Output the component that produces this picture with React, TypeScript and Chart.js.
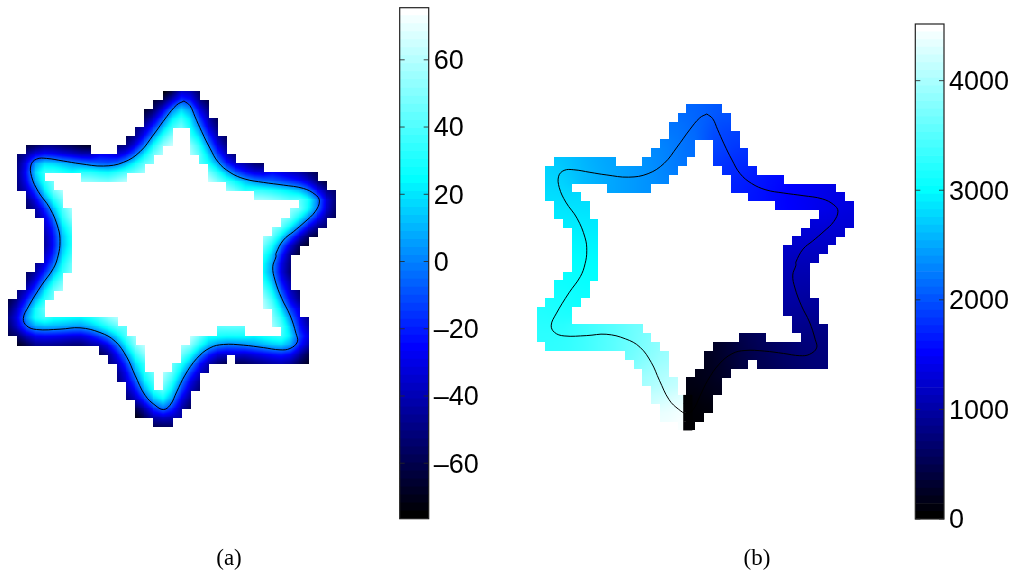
import React, { useEffect, useRef } from "react";
import { Chart, registerables } from "chart.js";

Chart.register(...registerables);

type Run = [number, number, number[]];

// [row, first column, values]
const fieldA: Run[] = [
  [0, 17, [-72, -45, -24, -54]],
  [1, 16, [-60, -29, 0, 12, -22, -58]],
  [2, 15, [-62, -34, -5, 24, 28, -5, -37]],
  [3, 15, [-41, -12, 17, 46, 42, 10, -23, -55]],
  [4, 14, [-49, -20, 8, 37]], [4, 20, [24, -8, -41]],
  [5, 13, [-55, -26, 2, 31, 60]], [5, 20, [43, 11, -22, -54]],
  [6, 2, [-58, -48, -45, -50, -54, -58, -64]], [6, 12, [-50, -30, -3, 27, 55]], [6, 20, [55, 23, -8, -39]],
  [7, 1, [-50, -14, 2, 0, -5, -10, -15, -20, -24, -27, -27, -18, 3, 22, 47]], [7, 21, [39, 11, -18, -50]],
  [8, 1, [-45, 0, 34, 37, 33, 27, 22, 17, 13, 9, 9, 20, 34, 53]], [8, 22, [30, 7, -16, -34, -45, -52]],
  [9, 1, [-45, 0, 31]], [9, 8, [52, 49, 45, 45, 58]], [9, 22, [60, 34, 17, 0, -9, -17, -21, -25, -31, -36, -42, -55]],
  [10, 1, [-47, -16, 14, 45]], [10, 24, [52, 35, 27, 19, 15, 11, 5, 0, -9, -30, -60]],
  [11, 2, [-42, -3, 27, 56]], [11, 27, [54, 51, 47, 41, 36, 27, 7, -22, -50]],
  [12, 2, [-52, -23, 5, 34]], [12, 32, [54, 22, -13, -49]],
  [13, 3, [-45, -12, 22, 54]], [13, 31, [50, 25, 0, -25, -55]],
  [14, 4, [-32, 9, 43]], [14, 30, [50, 27, 0, -25, -50]],
  [15, 4, [-38, -3, 32]], [15, 29, [50, 23, -5, -33, -60]],
  [16, 4, [-42, -6, 29]], [16, 28, [54, 23, -8, -36, -63]],
  [17, 4, [-42, -5, 31]], [17, 28, [36, 3, -30, -60]],
  [18, 4, [-30, 5, 40]], [18, 28, [29, -7, -43]],
  [19, 3, [-45, -14, 16, 47]], [19, 28, [20, -16, -52]],
  [20, 2, [-52, -23, 5, 34]], [20, 28, [25, -11, -47]],
  [21, 2, [-42, -4, 25, 54]], [21, 28, [36, 0, -34]],
  [22, 1, [-47, -16, 14, 45]], [22, 28, [49, 14, -20, -50]],
  [23, 0, [-58, -27, 3, 34]], [23, 28, [58, 27, -7, -40]],
  [24, 0, [-47, -13, 20, 50]], [24, 29, [43, 11, -22]],
  [25, 0, [-45, -9, 20, 28, 28, 27, 25, 22, 22, 34, 40, 56]], [25, 29, [54, 23, -11, -45]],
  [26, 0, [-56, -31, -12, -7, -7, -9, -11, -14, -12, 0, 11, 25, 40]], [26, 23, [40, 42, 40]], [26, 30, [36, 2, -33]],
  [27, 1, [-65, -47, -43, -44, -45, -47, -50, -48, -36, -23, -4, 22, 52]], [27, 20, [59, 30, 25, 16, 15, 17, 20, 25, 29, 34, 34, 7, -27]],
  [28, 10, [-55, -27, -3, 31, 59]], [28, 19, [54, 33, 7, -11, -20, -20, -19, -16, -11, -7, -2, -2, -13, -50]],
  [29, 11, [-47, -18, 11, 40]], [29, 19, [36, 5, -25, -41, -56]], [29, 25, [-54, -50, -45, -43, -37, -38, -47, -63]],
  [30, 12, [-40, -2, 29]], [30, 18, [43, 13, -16, -45]],
  [31, 12, [-47, -16, 14, 45]], [31, 17, [56, 25, -7, -36]],
  [32, 13, [-32, 0, 31]], [32, 17, [43, 11, -20, -50]],
  [33, 13, [-49, -16, 14, 43, 32, -5, -36]],
  [34, 14, [-43, -18, 11, 11, -22, -54]],
  [35, 14, [-68, -40, -20, -18, -40]],
  [36, 16, [-55, -52]],
];

// [row, first column, values]
const fieldB: Run[] = [
  [0, 17, [2110, 2080, 2050, 2020]],
  [1, 16, [2150, 2120, 2090, 2050, 2000, 1980]],
  [2, 15, [2200, 2170, 2130, 2100, 2000, 1950, 1930]],
  [3, 15, [2220, 2190, 2150, 2100, 1980, 1930, 1900, 1880]],
  [4, 14, [2270, 2240, 2200, 2150]], [4, 20, [1920, 1880, 1850]],
  [5, 13, [2320, 2290, 2250, 2200, 2160]], [5, 20, [1880, 1840, 1810, 1790]],
  [6, 2, [2680, 2650, 2610, 2570, 2530, 2500, 2470]], [6, 12, [2370, 2330, 2280, 2240, 2200]], [6, 20, [1830, 1800, 1770, 1750]],
  [7, 1, [2760, 2730, 2680, 2640, 2600, 2560, 2520, 2490, 2460, 2430, 2400, 2370, 2330, 2290, 2250]], [7, 21, [1770, 1740, 1710, 1680]],
  [8, 1, [2770, 2750, 2720, 2640, 2600, 2560, 2520, 2490, 2460, 2430, 2400, 2370, 2340, 2300]], [8, 22, [1710, 1680, 1650, 1620, 1590, 1560]],
  [9, 1, [2790, 2780, 2760]], [9, 8, [2490, 2460, 2430, 2400, 2370]], [9, 22, [1680, 1660, 1630, 1600, 1570, 1540, 1510, 1480, 1450, 1420, 1390, 1360]],
  [10, 1, [2830, 2820, 2800, 2790]], [10, 24, [1620, 1590, 1560, 1530, 1500, 1470, 1440, 1410, 1380, 1350, 1330]],
  [11, 2, [2860, 2850, 2840, 2830]], [11, 27, [1540, 1510, 1480, 1450, 1420, 1390, 1370, 1340, 1320]],
  [12, 2, [2890, 2880, 2870, 2860]], [12, 32, [1360, 1340, 1320, 1300]],
  [13, 3, [2910, 2900, 2890, 2880]], [13, 31, [1300, 1290, 1280, 1270, 1260]],
  [14, 4, [2930, 2920, 2910]], [14, 30, [1260, 1250, 1240, 1230, 1220]],
  [15, 4, [2960, 2950, 2940]], [15, 29, [1220, 1210, 1200, 1190, 1180]],
  [16, 4, [2990, 2980, 2970]], [16, 28, [1180, 1170, 1160, 1150, 1140]],
  [17, 4, [3010, 3000, 2990]], [17, 28, [1120, 1110, 1100, 1090]],
  [18, 4, [3030, 3020, 3010]], [18, 28, [1090, 1080, 1070]],
  [19, 3, [3060, 3050, 3040, 3030]], [19, 28, [1050, 1040, 1030]],
  [20, 2, [3090, 3080, 3070, 3060]], [20, 28, [1020, 1010, 1000]],
  [21, 2, [3120, 3110, 3090, 3080]], [21, 28, [980, 970, 960]],
  [22, 1, [3160, 3150, 3130, 3110]], [22, 28, [950, 940, 930, 920]],
  [23, 0, [3200, 3190, 3170, 3160]], [23, 28, [910, 900, 890, 880]],
  [24, 0, [3230, 3220, 3210, 3200]], [24, 29, [860, 850, 840]],
  [25, 0, [3260, 3250, 3260, 3290, 3330, 3370, 3420, 3470, 3520, 3570, 3630, 3690]], [25, 29, [810, 800, 790, 780]],
  [26, 0, [3270, 3270, 3280, 3300, 3340, 3380, 3430, 3480, 3530, 3580, 3640, 3700, 3770]], [26, 23, [470, 510, 550]], [26, 30, [760, 750, 740]],
  [27, 1, [3290, 3300, 3320, 3350, 3390, 3440, 3490, 3540, 3590, 3650, 3710, 3780, 3850]], [27, 20, [230, 300, 360, 420, 470, 510, 550, 590, 630, 670, 700, 720, 730]],
  [28, 10, [3650, 3720, 3790, 3860, 3930]], [28, 19, [190, 240, 300, 370, 420, 470, 510, 550, 600, 640, 670, 700, 710, 720]],
  [29, 11, [3790, 3850, 3920, 3990]], [29, 19, [170, 210, 270, 340, 400]], [29, 25, [470, 510, 550, 590, 630, 660, 690, 710]],
  [30, 12, [3940, 4000, 4050]], [30, 18, [150, 170, 220, 270]],
  [31, 12, [3980, 4040, 4090, 4140]], [31, 17, [110, 130, 160, 200]],
  [32, 13, [4110, 4160, 4210]], [32, 17, [90, 110, 130, 160]],
  [33, 13, [4230, 4270, 4310, 4360, 50, 70, 100]],
  [34, 14, [4360, 4390, 4440, 40, 50, 70]],
  [35, 14, [4420, 4450, 4480, 30, 40]],
  [36, 16, [4490, 20]],
];

// dark side of the seam in panel (b), which starts inside column 16
const seamRows = [33, 34, 35, 36];
const seamColumn = 17.14;
const seamValue = 20;

// interface curve in grid units
const curveX = [19.3, 19.96, 20.51, 21.25, 22.16, 23.08, 24.36, 26.01, 28.02, 30.22, 32.42, 33.7, 34.18, 33.7, 32.6, 31.32, 30.22, 29.41, 29.41, 29.05, 29.3, 30.04, 30.95, 31.61, 31.76, 30.95, 29.85, 28.02, 25.82, 23.63, 22.16, 20.7, 19.41, 18.5, 17.77, 17.03, 16.12, 15.02, 13.92, 13, 11.72, 10.07, 7.88, 5.68, 3.11, 2.01, 1.65, 2.2, 3.66, 4.95, 5.49, 5.68, 5.49, 4.58, 3.3, 2.56, 2.49, 3.11, 4.21, 6.04, 7.88, 10.44, 12.64, 14.47, 15.93, 17.4, 18.5, 19.3];
const curveY = [1.1, 1.62, 2.83, 4.49, 6.32, 7.87, 8.97, 9.71, 10.07, 10.37, 10.74, 11.4, 12.13, 13.31, 14.41, 15.51, 16.43, 17.9, 18.27, 19.38, 20.85, 22.87, 24.71, 26.73, 27.65, 28.38, 28.53, 28.28, 28.01, 27.94, 28.31, 29.49, 31.32, 33.16, 34.63, 35.11, 34.63, 33.53, 31.32, 29.3, 27.57, 26.62, 26.1, 26.25, 26.29, 25.88, 25.07, 23.79, 21.4, 19.56, 18.09, 16.62, 15.15, 12.94, 11.1, 9.45, 8.16, 7.5, 7.43, 7.72, 8.01, 8.27, 7.87, 6.69, 4.85, 2.83, 1.54, 1.1];

const gridColumns = 36;
const gridRows = 37;

const rangeA: [number, number] = [-76.5, 75.5];
const rangeB: [number, number] = [0, 4517];
const ticksA = [-60, -40, -20, 0, 20, 40, 60];
const ticksB = [0, 1000, 2000, 3000, 4000];
const colorLevels = 64;

function colormap(t: number): [number, number, number] {
  const u = Math.min(1, Math.max(0, t)) * 3;
  if (u < 1) return [0, 0, 255 * u];
  if (u < 2) return [0, 255 * (u - 1), 255];
  return [255 * (u - 2), 255, 255];
}
const css = (c: number[]) => `rgb(${c[0] | 0},${c[1] | 0},${c[2] | 0})`;

function flatten(runs: Run[]) {
  const out: { x: number; y: number; v: number; r: number; c: number }[] = [];
  for (const [r, c0, vals] of runs)
    vals.forEach((v, i) => out.push({ x: c0 + i + 0.5, y: r + 0.5, v, r, c: c0 + i }));
  return out;
}

function smoothTiles(cells: ReturnType<typeof flatten>, range: [number, number], px: number, edgePush: number) {
  const map = new Map<string, number>();
  cells.forEach((k) => map.set(`${k.r},${k.c}`, k.v));
  const jump = (range[1] - range[0]) / 2;
  const corner = (r: number, c: number, self: number) => {
    const all = [[r - 1, c - 1], [r - 1, c], [r, c - 1], [r, c]]
      .map(([a, b]) => map.get(`${a},${b}`))
      .filter((v) => v !== undefined) as number[];
    const found = all.filter((v) => Math.abs(v - self) < jump);
    const m = found.reduce((s, v) => s + v, 0) / found.length;
    return all.length < 4 ? m * edgePush : m;
  };
  return cells.map((k) => {
    const cv = document.createElement("canvas");
    cv.width = px;
    cv.height = px;
    const g = cv.getContext("2d")!;
    const img = g.createImageData(px, px);
    const a = corner(k.r, k.c, k.v), b = corner(k.r, k.c + 1, k.v), d = corner(k.r + 1, k.c, k.v), e = corner(k.r + 1, k.c + 1, k.v);
    for (let j = 0; j < px; j++)
      for (let i = 0; i < px; i++) {
        const u = (i + 0.5) / px, w = (j + 0.5) / px;
        const val = (a * (1 - u) + b * u) * (1 - w) + (d * (1 - u) + e * u) * w;
        const col = colormap((val - range[0]) / (range[1] - range[0]));
        const o = (j * px + i) * 4;
        img.data[o] = col[0]; img.data[o + 1] = col[1]; img.data[o + 2] = col[2]; img.data[o + 3] = 255;
      }
    g.putImageData(img, 0, 0);
    return cv;
  });
}

const frameAndTicks = {
  id: "frameAndTicks",
  afterDraw(chart: any) {
    const { ctx, chartArea: a, scales } = chart;
    ctx.save();
    ctx.strokeStyle = "#222";
    ctx.lineWidth = 1.2;
    ctx.strokeRect(a.left, a.top, a.right - a.left, a.bottom - a.top);
    ctx.strokeStyle = "rgba(40,40,40,0.85)";
    ctx.lineWidth = 1;
    for (const t of scales.labels.ticks) {
      const y = scales.y.getPixelForValue(t.value);
      ctx.beginPath();
      ctx.moveTo(a.left, y); ctx.lineTo(a.left + 5, y);
      ctx.moveTo(a.right, y); ctx.lineTo(a.right - 5, y);
      ctx.stroke();
    }
    ctx.restore();
  },
};

function Panel(props: { left: number; right: number; top: number; bottom: number; runs: Run[]; range: [number, number]; edgePush: number; seam: boolean }) {
  const ref = useRef<HTMLCanvasElement>(null);
  useEffect(() => {
    const { left, right, top, bottom, runs, range, edgePush, seam } = props;
    const cells = flatten(runs);
    const pitch = (right - left) / gridColumns;
    const tiles = smoothTiles(cells, range, Math.ceil(pitch), edgePush);
    const colorOf = (v: number) => css(colormap((v - range[0]) / (range[1] - range[0])));
    const canvas = ref.current!;
    const curve = curveX.map((x, i) => ({ x, y: curveY[i] }));
    const datasets: any[] = [
      { data: curve, showLine: true, borderColor: "#000", borderWidth: 1, tension: 0.4, pointRadius: 0, fill: false, clip: false },
    ];
    if (seam)
      datasets.push({
        data: seamRows.map((r) => ({ x: seamColumn, y: r + 0.5 })),
        pointStyle: "rect", pointRadius: (pitch / 2 + 0.15) * Math.SQRT2, pointBorderWidth: 0,
        pointBackgroundColor: colorOf(seamValue), clip: false,
      });
    datasets.push({
      data: cells,
      clip: false,
      pointBorderWidth: 0,
      pointRadius: 6,
      pointStyle: (c: any) => tiles[c.dataIndex],
      pointBackgroundColor: (c: any) => colorOf(cells[c.dataIndex]?.v ?? 0),
    });
    const chart = new Chart(canvas, {
      type: "scatter",
      data: { datasets },
      options: {
        responsive: false,
        animation: false,
        events: [],
        layout: { autoPadding: false, padding: { left, top, right: canvas.width - right, bottom: canvas.height - bottom } },
        plugins: { legend: { display: false }, tooltip: { enabled: false } },
        scales: {
          x: { type: "linear", min: 0, max: gridColumns, display: false },
          y: { type: "linear", min: 0, max: gridRows, reverse: true, display: false },
        },
      },
    } as any);
    return () => chart.destroy();
  }, []);
  return <canvas ref={ref} width={props.right + 20} height={574} style={{ position: "absolute", left: 0, top: 0 }} />;
}

const barLift = 30;
const labelDrop = 2;

function Colorbar(props: { x: number; left: number; right: number; top: number; bottom: number; range: [number, number]; ticks: number[]; width: number }) {
  const ref = useRef<HTMLCanvasElement>(null);
  useEffect(() => {
    const { left, right, top, bottom, range, ticks, width } = props;
    const step = (range[1] - range[0]) / colorLevels;
    const drop = (labelDrop * (range[1] - range[0])) / (bottom - top);
    const datasets = Array.from({ length: colorLevels }, (_, k) => ({
      data: [[range[0] + k * step, range[0] + (k + 1) * step]],
      backgroundColor: css(colormap(k / (colorLevels - 1))),
      borderWidth: 0,
      barPercentage: 1,
      categoryPercentage: 1,
      grouped: false,
      yAxisID: "y",
    }));
    const chart = new Chart(ref.current!, {
      type: "bar",
      data: { labels: [""], datasets },
      options: {
        responsive: false,
        animation: false,
        events: [],
        layout: { autoPadding: false, padding: { left, top: top + barLift, right: 0, bottom: 574 - bottom } },
        plugins: { legend: { display: false }, tooltip: { enabled: false } },
        scales: {
          x: { display: false },
          y: { display: false, min: range[0], max: range[1] },
          labels: {
            position: "right",
            min: range[0] + drop,
            max: range[1] + drop,
            afterFit: (s: any) => { s.width = width - right; },
            afterBuildTicks: (s: any) => { s.ticks = ticks.map((value) => ({ value })); },
            grid: { display: false, drawTicks: false },
            border: { display: false },
            ticks: {
              padding: 5,
              color: "#000",
              font: { family: "'Liberation Sans'", size: 27 },
              callback: (v: any) => (v < 0 ? "\u2013" + -v : String(v)),
            },
          },
        },
      },
      plugins: [frameAndTicks],
    } as any);
    return () => chart.destroy();
  }, []);
  return <canvas ref={ref} width={props.width} height={574 + barLift} style={{ position: "absolute", left: props.x, top: -barLift }} />;
}

const captionStyle: React.CSSProperties = {
  position: "absolute", top: 546, fontFamily: "'Liberation Serif'", fontSize: 23, lineHeight: "24px", color: "#000",
  width: 60, textAlign: "center",
};

export default function App() {
  useEffect(() => { document.body.style.margin = "0"; }, []);
  return (
    <div style={{ position: "absolute", left: 0, top: 0, width: 1013, height: 574, overflow: "hidden", background: "#fff" }}>
      <Panel left={8.3} right={336} top={91} bottom={426.7} runs={fieldA} range={rangeA} edgePush={1.1} seam={false} />
      <div style={{ position: "absolute", left: 530, top: 0 }}>
        <Panel left={6.7} right={324} top={104.3} bottom={430.3} runs={fieldB} range={rangeB} edgePush={1} seam />
      </div>
      <Colorbar x={395} left={4.7} right={33.7} top={7.7} bottom={518.7} range={rangeA} ticks={ticksA} width={105} />
      <Colorbar x={910} left={5.3} right={34} top={24} bottom={519} range={rangeB} ticks={ticksB} width={103} />
      <div style={{ ...captionStyle, left: 199 }}>(a)</div>
      <div style={{ ...captionStyle, left: 727 }}>(b)</div>
    </div>
  );
}
